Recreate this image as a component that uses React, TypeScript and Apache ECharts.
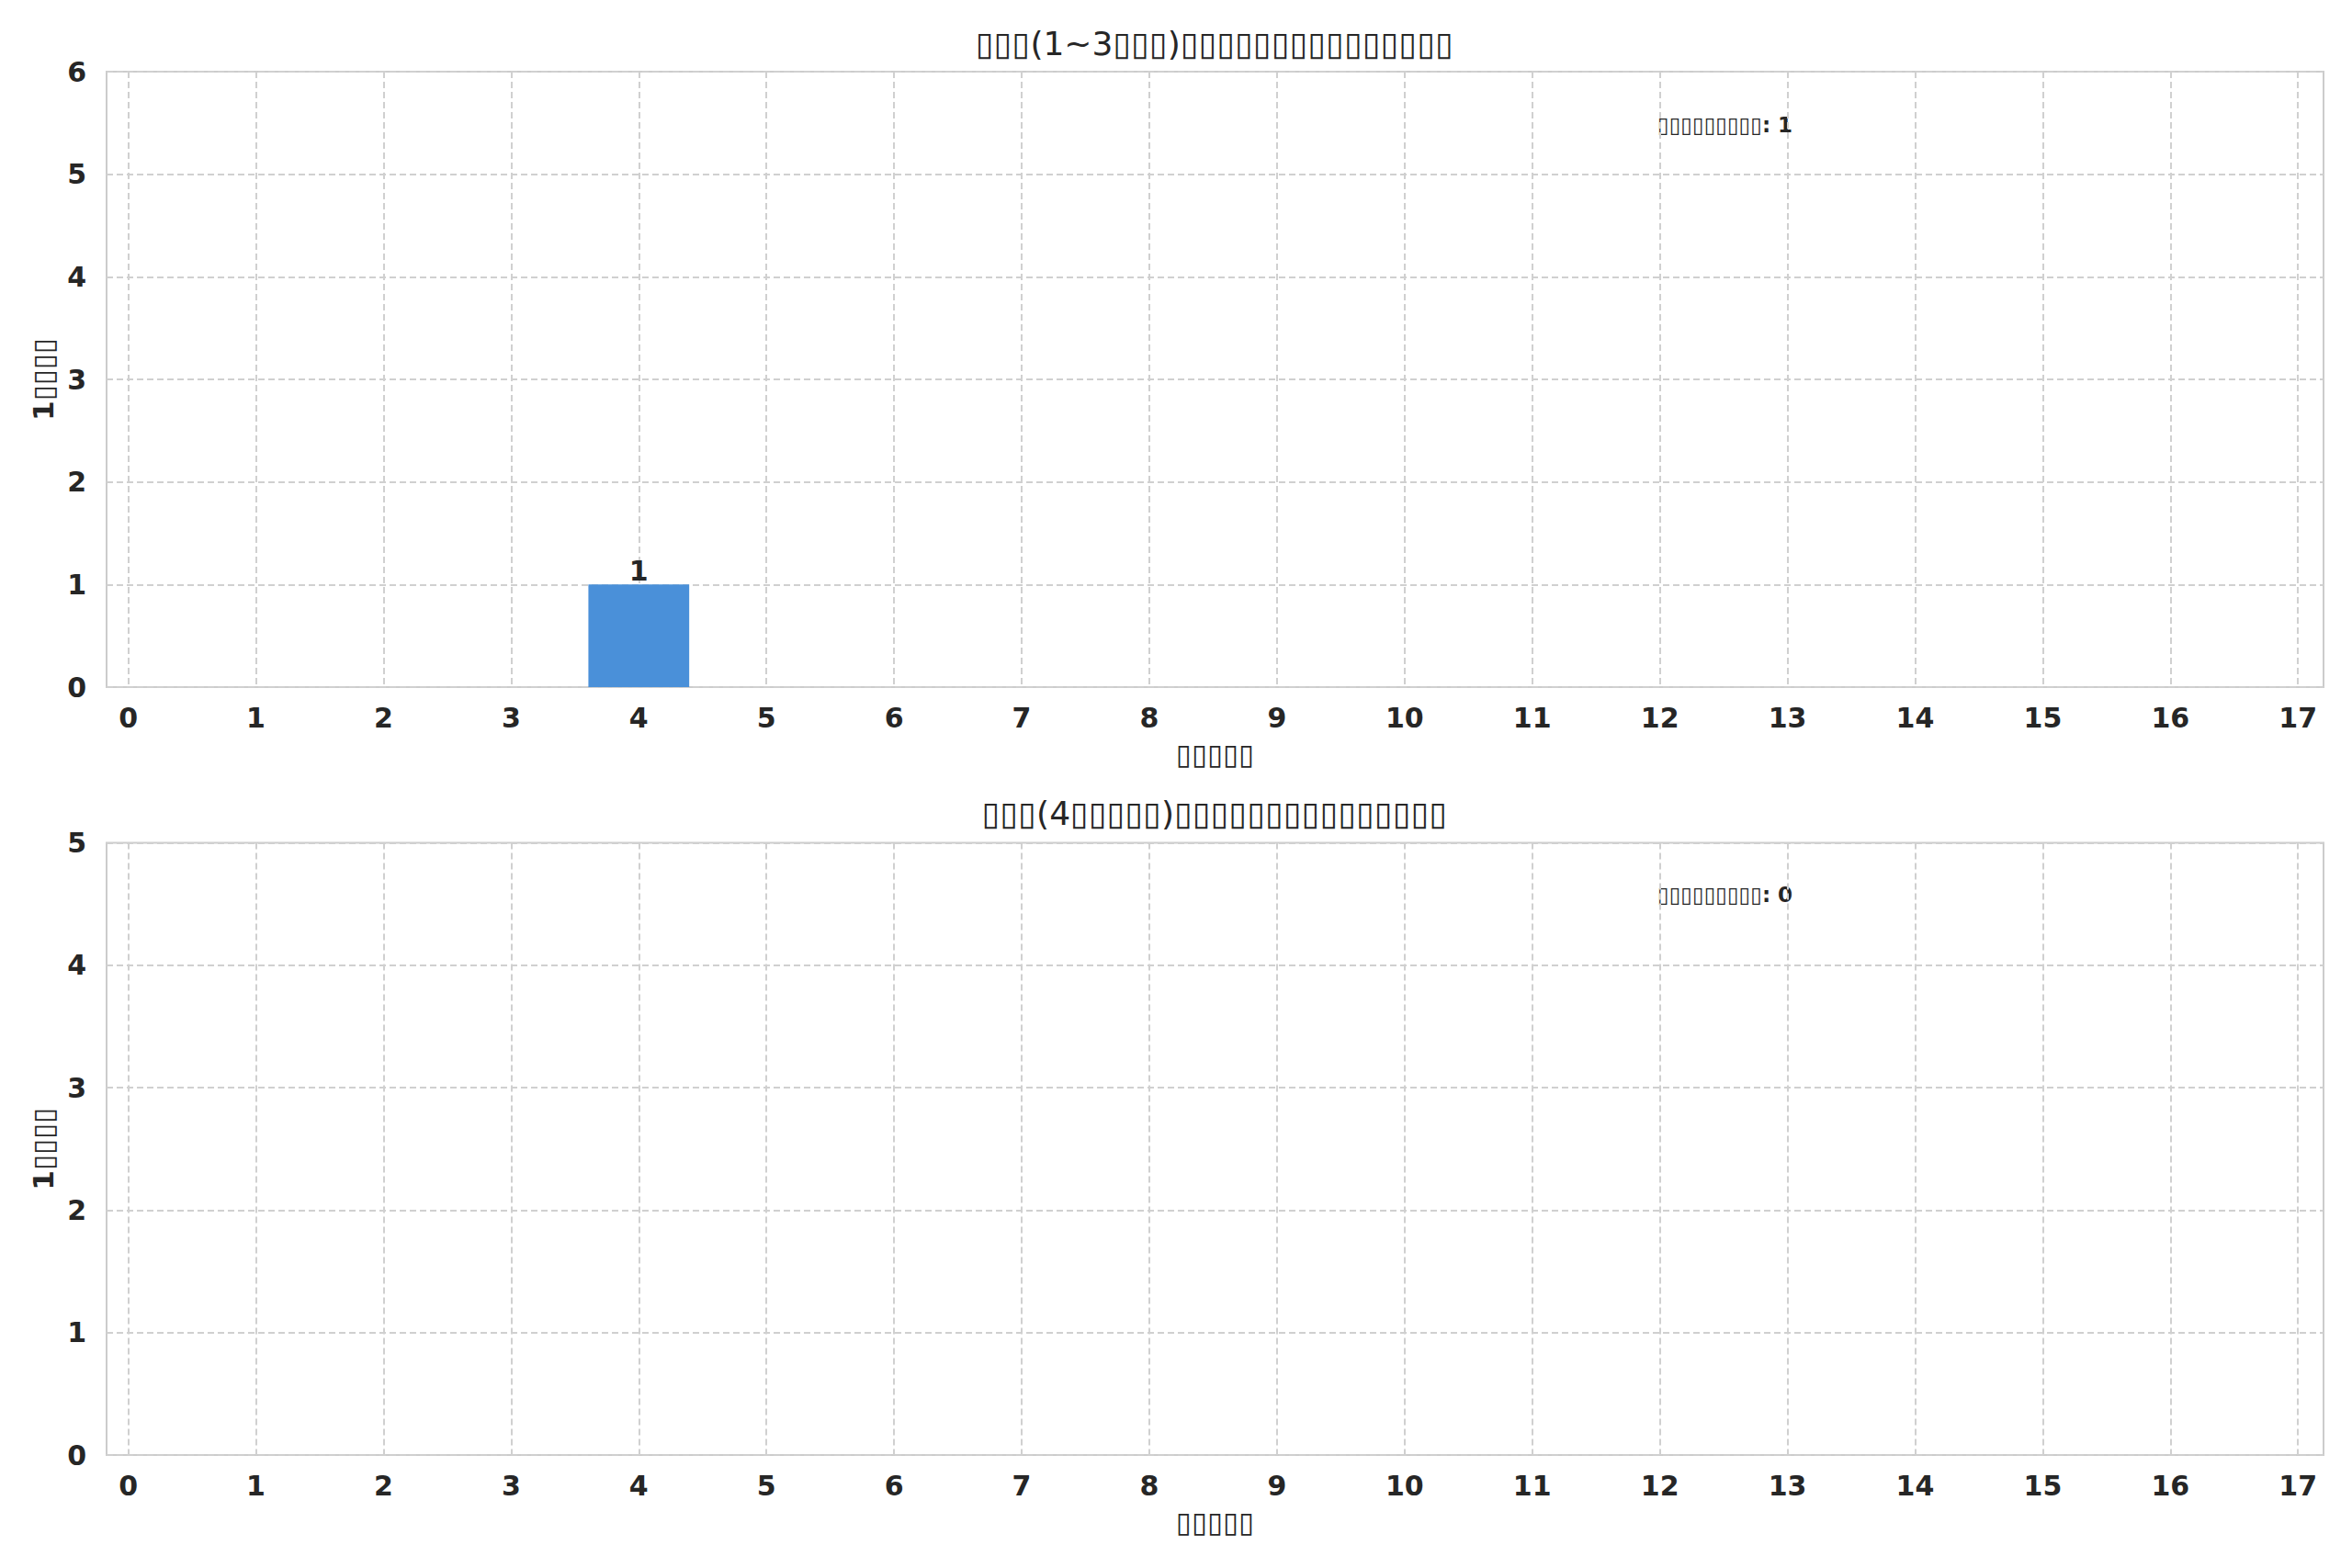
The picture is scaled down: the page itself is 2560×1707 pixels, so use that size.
import React, { useEffect, useRef } from "react";
import * as echarts from "echarts";

// Tick positions / categories on the x axis (scores)
const scores = [0, 1, 2, 3, 4, 5, 6, 7, 8, 9, 10, 11, 12, 13, 14, 15, 16, 17];
// Counts per score, lower grades (1~3)
const lowerValues = [0, 0, 0, 0, 1, 0, 0, 0, 0, 0, 0, 0, 0, 0, 0, 0, 0, 0];
// Counts per score, upper grades (4+)
const upperValues = [0, 0, 0, 0, 0, 0, 0, 0, 0, 0, 0, 0, 0, 0, 0, 0, 0, 0];

const titleLower = "▯▯▯(1~3▯▯▯)▯▯▯▯▯▯▯▯▯▯▯▯▯▯▯";
const titleUpper = "▯▯▯(4▯▯▯▯▯)▯▯▯▯▯▯▯▯▯▯▯▯▯▯▯";
const xName = "▯▯▯▯▯";
const yName = "1▯▯▯▯";
const annotLabel = "▯▯▯▯▯▯▯▯▯";
const yMaxLower = 6;
const yMaxUpper = 5;

const FONT = "DejaVu Sans";
const DARK = "#262626";
const GRID_COLOR = "#d0d0d0";
const BAR_COLOR = "#4a90d9";

export default function App() {
  const ref = useRef<HTMLDivElement>(null);
  useEffect(() => {
    if (!ref.current) return;
    const chart = echarts.init(ref.current, undefined, { renderer: "svg" });

    const grids = [
      { left: 116, right: 31, top: 78, height: 670 },
      { left: 116, right: 31, top: 917.5, height: 666.5 },
    ];

    const xAxisFor = (gi: number) => ({
      type: "value",
      gridIndex: gi,
      min: -0.17,
      max: 17.2,
      name: xName,
      nameLocation: "middle",
      nameGap: 57,
      nameTextStyle: { fontFamily: FONT, fontSize: 31, fontWeight: "bold", color: DARK },
      axisLine: { show: false },
      axisTick: { show: false, customValues: scores },
      axisLabel: {
        customValues: scores,
        fontFamily: FONT,
        fontSize: 30,
        fontWeight: "bold",
        color: DARK,
        margin: 18,
      },
      splitLine: { show: true, lineStyle: { color: GRID_COLOR, width: 2, type: [7, 4] } },
    });

    const yAxisFor = (gi: number, max: number) => ({
      type: "value",
      gridIndex: gi,
      min: 0,
      max,
      interval: 1,
      name: yName,
      nameLocation: "middle",
      nameGap: 53,
      nameRotate: 90,
      nameTextStyle: { fontFamily: FONT, fontSize: 31, fontWeight: "bold", color: DARK },
      axisLine: { show: false },
      axisTick: { show: false },
      axisLabel: {
        fontFamily: FONT,
        fontSize: 30,
        fontWeight: "bold",
        color: DARK,
        margin: 22,
      },
      splitLine: { show: true, lineStyle: { color: GRID_COLOR, width: 2, type: [7, 4] } },
    });

    const barSeries = (gi: number, values: number[]) => ({
      type: "bar",
      xAxisIndex: gi,
      yAxisIndex: gi,
      data: scores.map((s, i) => [s, values[i]]),
      barWidth: "79%",
      itemStyle: { color: BAR_COLOR, borderWidth: 0 },
      label: {
        show: true,
        position: "top",
        distance: 0,
        fontFamily: FONT,
        fontSize: 30,
        fontWeight: "bold",
        color: DARK,
        formatter: (p: any) => (p.value[1] > 0 ? String(p.value[1]) : ""),
      },
    });

    const sum = (a: number[]) => a.reduce((s, v) => s + v, 0);

    chart.setOption({
      animation: false,
      backgroundColor: "#ffffff",
      title: [
        {
          text: titleLower,
          left: 1322,
          top: 29,
          padding: 0,
          textAlign: "center",
          textStyle: { fontFamily: FONT, fontSize: 36, fontWeight: "normal", color: DARK },
        },
        {
          text: titleUpper,
          left: 1322,
          top: 867,
          padding: 0,
          textAlign: "center",
          textStyle: { fontFamily: FONT, fontSize: 36, fontWeight: "normal", color: DARK },
        },
      ],
      grid: grids.map((g) => ({ ...g, show: true, borderColor: "#cccccc", borderWidth: 2, backgroundColor: "transparent" })),
      xAxis: [xAxisFor(0), xAxisFor(1)],
      yAxis: [yAxisFor(0, yMaxLower), yAxisFor(1, yMaxUpper)],
      series: [barSeries(0, lowerValues), barSeries(1, upperValues)],
      graphic: [
        {
          type: "text",
          left: 1804,
          top: 124,
          style: {
            text: `${annotLabel}: ${sum(lowerValues)}`,
            fontFamily: FONT,
            fontSize: 23,
            fontWeight: "bold",
            fill: DARK,
          },
        },
        {
          type: "text",
          left: 1804,
          top: 962,
          style: {
            text: `${annotLabel}: ${sum(upperValues)}`,
            fontFamily: FONT,
            fontSize: 23,
            fontWeight: "bold",
            fill: DARK,
          },
        },
      ],
    });
    return () => chart.dispose();
  }, []);

  return (
    <div
      ref={ref}
      style={{ position: "fixed", left: 0, top: 0, width: 2560, height: 1707, background: "#ffffff" }}
    />
  );
}
